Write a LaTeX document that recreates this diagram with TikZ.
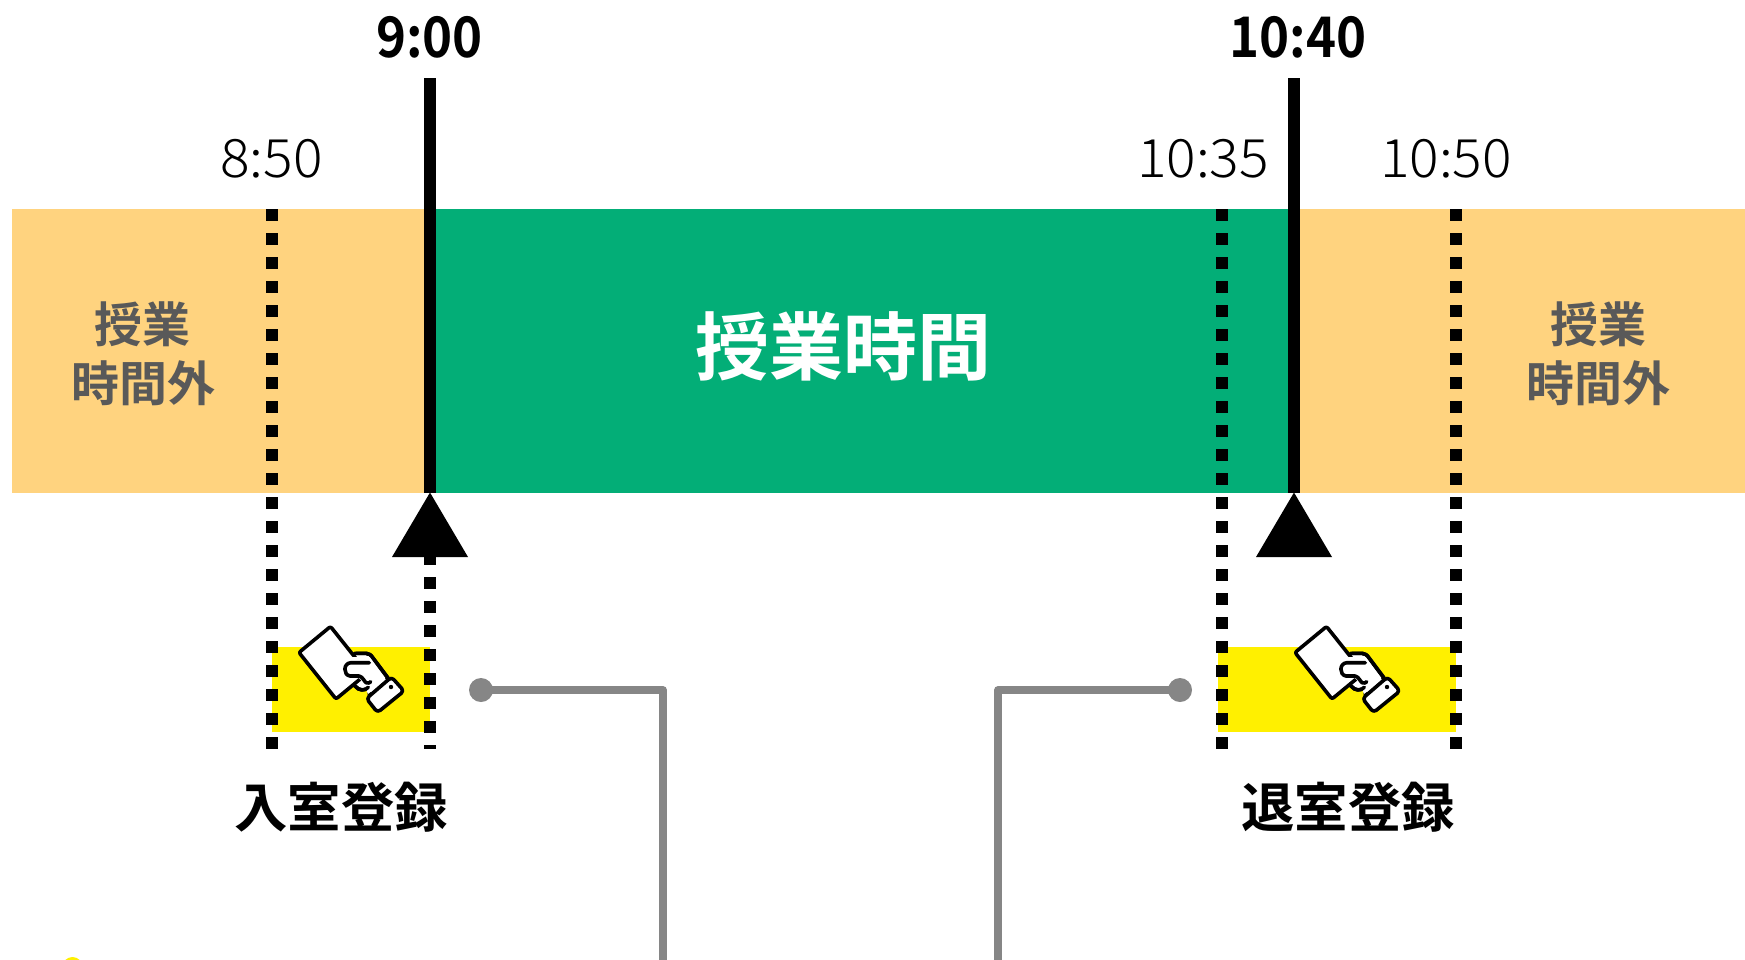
\documentclass[tikz,border=0pt]{standalone}
\usepackage{fontspec}
\setmainfont{Noto Sans CJK JP}
\newfontfamily\jpbold{Noto Sans CJK JP Bold}
\newfontfamily\numlight[FakeStretch=1.04]{Noto Sans CJK JP Light}
\newfontfamily\numbold[FakeStretch=0.91]{Noto Sans CJK JP Bold}
\definecolor{bandorange}{HTML}{FFD37F}
\definecolor{bandgreen}{HTML}{03AE77}
\definecolor{signyellow}{HTML}{FFF000}
\definecolor{labelgray}{HTML}{595959}
\definecolor{linkgray}{HTML}{868686}
\tikzset{
  x=1pt,y=-1pt,
  txt/.style={inner sep=0pt,outer sep=0pt,anchor=base},
  timemain/.style={txt,font=\fontsize{56}{56}\selectfont\numbold},
  timeside/.style={txt,font=\fontsize{53}{53}\selectfont\numlight},
  bandlabel/.style={txt,text=labelgray,font=\fontsize{48}{48}\selectfont\jpbold},
  reglabel/.style={txt,font=\fontsize{53.4}{53.4}\selectfont\jpbold},
  bar/.style={line width=12pt},
  dotline/.style={line width=12pt,dash pattern=on 12pt off 12pt},
  link/.style={draw=linkgray,line width=7.5pt,line join=round},
  linkdot/.style={circle,fill=linkgray,minimum size=24pt,inner sep=0pt,outer sep=0pt},
  iconline/.style={draw=black,line width=3.6pt,line join=round,line cap=round},
  cardhand/.pic={
    % hand
    \path[iconline,fill=white] (75,43.3) -- (86,43.3) .. controls (89,43.3) and (91,45) .. (93,48)
      -- (108,68) -- (90,88) -- (88.3,77.3) .. controls (85,81) and (79,81) .. (75,76)
      -- (60,60) -- cycle;
    % card
    \path[iconline,fill=white,rounded corners=2pt] (50.5,16.5) -- (19,42.5) -- (56,89) -- (87.5,63) -- cycle;
    % card corner hidden by the hand
    \path[fill=white] (72,47) -- (90,47) -- (106,70) -- (88,84) -- (83,72) -- (70,60) -- cycle;
    \path[iconline] (76,43.3) -- (86,43.3) .. controls (89,43.3) and (91,45) .. (93,48) -- (108,68);
    % thumb
    \path[iconline,fill=white] (89.3,52.7) -- (71,52.7) .. controls (63,53) and (63,65) .. (70,66)
      -- (79,66) .. controls (83,67) and (84,71) .. (86,72.7) .. controls (88,73.5) and (90,73) .. (90.7,71.7);
    \path[iconline] (75,76) .. controls (79,81) and (85,81) .. (88.3,77.3);
    % cuff
    \path[iconline,fill=white,rounded corners=3.5pt] (111.5,67) -- (124,81) -- (97.5,102.5) -- (86.5,88.5) -- cycle;
    \fill (111,77) circle (2.2pt);
  }
}
\begin{document}
\begin{tikzpicture}
\useasboundingbox (0,0) rectangle (1745,959);
\clip (0,0) rectangle (1745,959);
% bands
\fill[bandorange] (12,209) rectangle (1745,492.5);
\fill[bandgreen] (430,209) rectangle (1294,492.5);
% registration windows
\fill[signyellow] (272,647) rectangle (430,732);
\fill[signyellow] (1218,647) rectangle (1456,732);
% anchors of the lines
\coordinate (t850) at (272,209); \coordinate (b850) at (272,749);
\coordinate (t900) at (430,78);  \coordinate (m900) at (430,492.5);
\coordinate (s900) at (430,553); \coordinate (b900) at (430,749);
\coordinate (t1035) at (1222,209); \coordinate (b1035) at (1222,749);
\coordinate (t1040) at (1294,78);  \coordinate (m1040) at (1294,492.5);
\coordinate (t1050) at (1456,209); \coordinate (b1050) at (1456,749);
% dotted lines
\draw[dotline] (t850) -- (b850);
\draw[dotline] (s900) -- (b900);
\draw[dotline] (t1035) -- (b1035);
\draw[dotline] (t1050) -- (b1050);
% time bars
\draw[bar] (t900) -- (m900);
\draw[bar] (t1040) -- (m1040);
% triangles
\fill (m900) -- (392,557) -- (468,557) -- cycle;
\fill (m1040) -- (1256,557) -- (1332,557) -- cycle;
% time labels
\node[timemain] (n900) at (429.5,57) {9:00};
\node[timemain] (n1040) at (1298,57) {10:40};
\node[timeside] (n850) at (271.5,177) {8:50};
\node[timeside] (n1035) at (1203,177) {10:35};
\node[timeside] (n1050) at (1446,177) {10:50};
% band labels
\node[bandlabel] (a1) at (142,342) {授業};
\node[bandlabel] (a2) at (143,401) {時間外};
\node[bandlabel] (c1) at (1598,342) {授業};
\node[bandlabel] (c2) at (1598,401) {時間外};
\node[txt,text=white,font=\fontsize{74}{74}\selectfont\jpbold] (b1) at (843,374) {授業時間};
% icons
\pic at (280,610) {cardhand};
\pic at (1276,610) {cardhand};
% registration labels
\node[reglabel] (r1) at (341,827.5) {入室登録};
\node[reglabel] (r2) at (1348,827.5) {退室登録};
% connectors
\node[linkdot] (d1) at (481,690) {};
\node[linkdot] (d2) at (1180,690) {};
\coordinate (e1) at (663,975);
\coordinate (e2) at (998,975);
\draw[link] (d1.center) -| (e1);
\draw[link] (d2.center) -| (e2);
% yellow marker cut by the lower edge
\fill[signyellow] (72.5,967) circle (10pt);
\end{tikzpicture}
\end{document}
